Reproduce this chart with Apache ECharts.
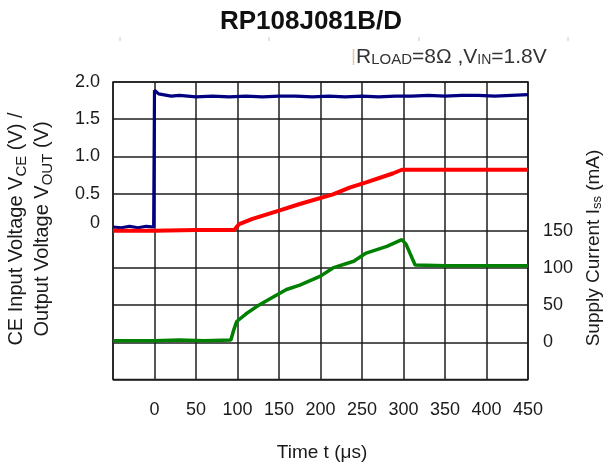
<!DOCTYPE html>
<html><head><meta charset="utf-8">
<script src="https://cdn.jsdelivr.net/npm/echarts@6/dist/echarts.min.js"></script>
<style>html,body{margin:0;padding:0;background:#fff}#c{width:609px;height:470px}</style>
</head><body><div id="c"></div>
<script>
// ---- data ----
const vceTime = [-50,-40,-30,-20,-10,-1,0,2,5,10,20,30,50,70,90,110,130,150,170,190,210,230,250,270,290,310,330,350,370,390,410,430,450];
const vceVal  = [0.05,0.04,0.06,0.04,0.06,0.05,1.89,1.88,1.84,1.83,1.81,1.82,1.80,1.81,1.80,1.81,1.80,1.81,1.81,1.80,1.81,1.80,1.81,1.80,1.81,1.81,1.82,1.81,1.82,1.82,1.81,1.82,1.83];
const voutTime = [-50,0,50,96,102,118,150,175,215,235,255,287,298,350,400,450];
const voutVal  = [0.0,0.0,0.01,0.01,0.09,0.16,0.27,0.36,0.49,0.58,0.65,0.77,0.82,0.82,0.82,0.82];
const issTime = [-50,-20,0,30,60,92,95,99,110,123,135,159,175,200,215,240,255,280,298,303,314,350,400,450];
const issVal  = [2,2,2,3,2,3,15,28,38,48,56,71,77,89,100,109,120,129,138,132,104,103,103,103];
const xTickLabels = ['0','50','100','150','200','250','300','350','400','450'];
const leftTickLabels = ['0','0.5','1.0','1.5','2.0'];
const rightTickLabels = ['0','50','100','150'];
const titleText = 'RP108J081B/D';

const zip = (t, v) => t.map((x, i) => [x, v[i]]);
const txt = '#1a1a1a';
const chart = echarts.init(document.getElementById('c'), null, {renderer: 'canvas'});
const gridColor = '#1e1e1e';
const ff = '"Liberation Sans", Arial, sans-serif';

chart.setOption({
  animation: false,
  backgroundColor: '#fff',
  grid: {left: 113, right: 81, top: 82, bottom: 90.5, show: true, borderColor: gridColor, borderWidth: 1.5, containLabel: false, outerBoundsMode: 'none'},
  xAxis: {
    type: 'value', min: -50, max: 450, interval: 50,
    axisLine: {show: false}, axisTick: {show: false},
    splitLine: {show: true, lineStyle: {color: gridColor, width: 1.5}},
    axisLabel: {
      show: true, showMinLabel: true, showMaxLabel: true, hideOverlap: false,
      margin: 22, fontSize: 18, color: txt, fontFamily: ff,
      formatter: v => { const s = String(v); return xTickLabels.includes(s) ? s : ''; }
    }
  },
  yAxis: [
    {
      type: 'value', min: -2, max: 2, interval: 0.5,
      axisLine: {show: false}, axisTick: {show: false},
      splitLine: {show: true, lineStyle: {color: gridColor, width: 1.5}},
      axisLabel: {
        showMinLabel: true, showMaxLabel: true, hideOverlap: false,
        margin: 13, fontSize: 18, color: txt, fontFamily: ff,
        formatter: v => {
          const s = v === 0 ? '0' : v.toFixed(1);
          if (!leftTickLabels.includes(s) || v < 0) return '';
          return v === 0 ? '{z|0}' : s;
        },
        rich: {z: {fontSize: 18, color: txt, padding: [0, 0, 16, 0], fontFamily: ff}}
      }
    },
    {
      type: 'value', min: -50, max: 350, interval: 50, position: 'right',
      axisLine: {show: false}, axisTick: {show: false}, splitLine: {show: false},
      axisLabel: {
        showMinLabel: true, showMaxLabel: true, hideOverlap: false,
        margin: 15, fontSize: 18, color: txt, fontFamily: ff,
        formatter: v => { const s = String(v); return rightTickLabels.includes(s) ? s : ''; }
      }
    }
  ],
  series: [
    {type: 'line', name: 'VCE', data: zip(vceTime, vceVal), yAxisIndex: 0, showSymbol: false, color: '#000080', lineStyle: {width: 3.2, color: '#000080'}, z: 3},
    {type: 'line', name: 'VOUT', data: zip(voutTime, voutVal), yAxisIndex: 0, showSymbol: false, color: '#ff0000', lineStyle: {width: 4, color: '#ff0000'}, z: 4},
    {type: 'line', name: 'ISS', data: zip(issTime, issVal), yAxisIndex: 1, showSymbol: false, color: '#008000', lineStyle: {width: 3.5, color: '#008000'}, z: 4}
  ],
  graphic: [
    {type: 'text', x: 311, y: 22, style: {text: titleText, font: 'bold 26px ' + ff, fill: '#111', align: 'center', verticalAlign: 'middle', textAlign: 'center', textVerticalAlign: 'middle'}},
    {type: 'line', shape: {x1: 120, y1: 37, x2: 120, y2: 41}, style: {stroke: '#c8c8c8', lineWidth: 1}},
    {type: 'line', shape: {x1: 269, y1: 37, x2: 269, y2: 41}, style: {stroke: '#c8c8c8', lineWidth: 1}},
    {type: 'line', shape: {x1: 419, y1: 37, x2: 419, y2: 41}, style: {stroke: '#c8c8c8', lineWidth: 1}},
    {type: 'line', shape: {x1: 568, y1: 37, x2: 568, y2: 41}, style: {stroke: '#c8c8c8', lineWidth: 1}},
    {type: 'line', shape: {x1: 353.5, y1: 49, x2: 353.5, y2: 65}, style: {stroke: '#e6c79c', lineWidth: 1.5}},
    {type: 'text', x: 356, y: 57, style: {
      text: 'R{sc|LOAD}=8Ω ,V{sub|IN}=1.8V',
      font: '21px ' + ff, fill: '#333', align: 'left', verticalAlign: 'middle', textAlign: 'left', textVerticalAlign: 'middle',
      rich: {sc: {fontSize: 15, fill: '#333', verticalAlign: 'bottom', font: '15px ' + ff},
             sub: {fontSize: 14, fill: '#333', verticalAlign: 'bottom', font: '14px ' + ff}}
    }},
    {type: 'text', x: 29, y: 229, rotation: Math.PI / 2, style: {
      text: 'CE Input Voltage V{sc|CE} (V) /\nOutput Voltage V{sc|OUT} (V)',
      font: '20px ' + ff, fill: '#1a1a1a', align: 'center', verticalAlign: 'middle', textAlign: 'center', textVerticalAlign: 'middle', lineHeight: 26,
      rich: {sc: {fontSize: 15, fill: '#1a1a1a', verticalAlign: 'bottom', font: '15px ' + ff, lineHeight: 26}}
    }},
    {type: 'text', x: 594, y: 248, rotation: Math.PI / 2, style: {
      text: 'Supply Current I{sc|ss} (mA)',
      font: '19px ' + ff, fill: '#1a1a1a', align: 'center', verticalAlign: 'middle', textAlign: 'center', textVerticalAlign: 'middle',
      rich: {sc: {fontSize: 13, fill: '#1a1a1a', verticalAlign: 'bottom', font: '13px ' + ff}}
    }},
    {type: 'text', x: 322, y: 453, style: {text: 'Time t (μs)', font: '19px ' + ff, fill: '#1a1a1a', align: 'center', verticalAlign: 'middle', textAlign: 'center', textVerticalAlign: 'middle'}}
  ]
});
</script>
</body></html>
